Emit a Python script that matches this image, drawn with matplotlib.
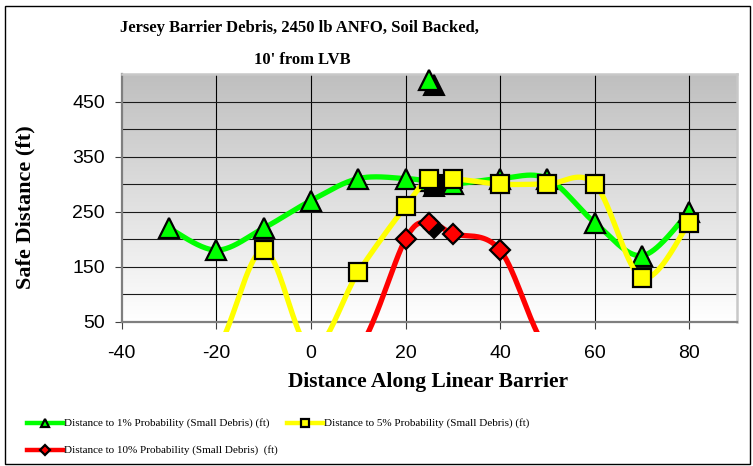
import numpy as np
import matplotlib
matplotlib.use('Agg')
import matplotlib.pyplot as plt
from matplotlib.lines import Line2D
from matplotlib.patches import Rectangle
from matplotlib import transforms
from matplotlib.colors import LinearSegmentedColormap

# ---------------- data ----------------
x_vals = [-30, -20, -10, 0, 10, 20, 25, 30, 40, 50, 60, 70, 80]
p1_vals = [220, 180, 220, 270, 310, 310, 305, 300, 310, 310, 230, 170, 250]
p5_vals = [0, 0, 180, 0, 140, 260, 310, 310, 300, 300, 300, 130, 230]
p10_vals = [0, 0, 0, 0, 0, 200, 230, 210, 180, 0, 0, 0, 0]
outlier_x = [25]
outlier_y = [490]
shadow_x = 25

series_labels = ["Distance to 1% Probability (Small Debris) (ft)",
                 "Distance to 5% Probability (Small Debris) (ft)",
                 "Distance to 10% Probability (Small Debris)  (ft)"]
x_ticks = [-40, -20, 0, 20, 40, 60, 80]
y_ticks = [50, 150, 250, 350, 450]
y_minor = [100, 200, 300, 400]

title1 = "Jersey Barrier Debris, 2450 lb ANFO, Soil Backed,"
title2 = "10' from LVB"
xlabel = "Distance Along Linear Barrier"
ylabel = "Safe Distance (ft)"

SERIF = 'Liberation Serif'
SANS = 'Liberation Sans'


def smooth(xs, ys, n=40):
    P = np.column_stack([xs, ys]).astype(float)
    Pe = np.vstack([P[0], P, P[-1]])
    t = np.linspace(0, 1, n)[:, None]
    out = []
    for i in range(len(P) - 1):
        p0, p1, p2, p3 = Pe[i], Pe[i + 1], Pe[i + 2], Pe[i + 3]
        c1 = p1 + (p2 - p0) / 6
        c2 = p2 - (p3 - p1) / 6
        seg = (1 - t) ** 3 * p1 + 3 * (1 - t) ** 2 * t * c1 + 3 * (1 - t) * t ** 2 * c2 + t ** 3 * p2
        out.append(seg if i == 0 else seg[1:])
    s = np.vstack(out)
    return s[:, 0], s[:, 1]


W, H = 753, 466
fig = plt.figure(figsize=(W / 100, H / 100), dpi=100)
fig.patch.set_facecolor('white')

L, R, T, B = 121.7, 736.7, 74, 321.7
ax = fig.add_axes([L / W, 1 - B / H, (R - L) / W, (B - T) / H])

# gradient background
grad = np.linspace(1.0, 0.0, 256)[:, None]
cm = LinearSegmentedColormap.from_list('g', ['#ffffff', '#bfbfbf'])
ax.imshow(grad, cmap=cm, extent=[0, 1, 0, 1], transform=ax.transAxes,
          aspect='auto', zorder=0, vmin=0, vmax=1)
ax.set_xlim(-40, 90)
ax.set_ylim(50, 500)

# grid
for xv in x_ticks[1:]:
    ax.axvline(xv, color='black', lw=0.8, zorder=1)
for yv in y_ticks[1:] + y_minor:
    ax.axhline(yv, color='#1a1a1a', lw=0.8, zorder=1)

ax.set_xticks(x_ticks)
ax.set_yticks(y_ticks)
ax.set_xticklabels([str(v) for v in x_ticks], fontfamily=SANS, fontsize=14)
ax.set_yticklabels([str(v) for v in y_ticks], fontfamily=SANS, fontsize=14)
ax.tick_params(axis='both', direction='out', length=5, width=0.8, color='#404040')
ax.tick_params(axis='x', pad=11.5)
ax.tick_params(axis='y', pad=7)

for s in ['left', 'bottom']:
    ax.spines[s].set_color('#7f7f7f')
    ax.spines[s].set_linewidth(1.6)
for s in ['right', 'top']:
    ax.spines[s].set_color('#c8c8c8')
    ax.spines[s].set_linewidth(1.8)

clip_rect = Rectangle((0, -0.04), 1, 1.04, transform=ax.transAxes, facecolor='none')

shadow_tr = transforms.offset_copy(ax.transData, fig=fig, x=5, y=-5, units='dots')

specs = [
    (p1_vals, '#00ff00', '^', 14),
    (p5_vals, '#ffff00', 's', 12.5),
    (p10_vals, '#ff0000', 'D', 10),
]
z = 3
for vals, col, mk, ms in specs:
    sx, sy = smooth(x_vals, vals)
    ln, = ax.plot(sx, sy, color=col, lw=3.8, zorder=z, solid_capstyle='butt')
    ln.set_clip_path(clip_rect)
    idx = x_vals.index(shadow_x)
    ax.plot([x_vals[idx]], [vals[idx]], linestyle='none', marker=mk, ms=ms,
            mfc='black', mec='black', mew=1.5, transform=shadow_tr, zorder=z + 0.1)
    ax.plot(x_vals, vals, linestyle='none', marker=mk, ms=ms, mfc=col,
            mec='black', mew=1.6, zorder=z + 0.2)
    z += 1

# outlier green point with shadow
ax.plot(outlier_x, outlier_y, linestyle='none', marker='^', ms=14, mfc='black',
        mec='black', mew=1.5, transform=shadow_tr, zorder=10, clip_on=False)
ax.plot(outlier_x, outlier_y, linestyle='none', marker='^', ms=14, mfc='#00ff00',
        mec='black', mew=1.6, zorder=10.1, clip_on=False)

# titles and labels
fig.text(299 / W, 1 - 28 / H, title1, ha='center', va='center', fontsize=12,
         fontweight='bold', fontfamily=SERIF)
fig.text(302 / W, 1 - 60 / H, title2, ha='center', va='center', fontsize=12,
         fontweight='bold', fontfamily=SERIF)
fig.text(428 / W, 1 - 382 / H, xlabel, ha='center', va='center', fontsize=15.5,
         fontweight='bold', fontfamily=SERIF)
fig.text(25 / W, 1 - 207 / H, ylabel, ha='center', va='center', fontsize=16,
         fontweight='bold', fontfamily=SERIF, rotation=90)

# legend (manual)
leg_items = [
    (27, 423, '#00ff00', '^', series_labels[0]),
    (287, 423, '#ffff00', 's', series_labels[1]),
    (27, 450, '#ff0000', 'D', series_labels[2]),
]
for lx, ly, col, mk, lab in leg_items:
    yy = 1 - ly / H
    fig.add_artist(Line2D([lx / W, (lx + 36) / W], [yy, yy], color=col, lw=3.2,
                          transform=fig.transFigure))
    fig.add_artist(Line2D([(lx + 18) / W], [yy], marker=mk, ms=6 if mk != 'D' else 5,
                          mfc=col, mec='black', mew=1.6, linestyle='none',
                          transform=fig.transFigure))
    fig.text((lx + 37) / W, yy, lab, ha='left', va='center', fontsize=8,
             fontfamily=SERIF)

# outer border
fig.add_artist(Rectangle((5 / W, 1 - 464 / H), 745 / W, 458 / H, transform=fig.transFigure,
                         fill=False, edgecolor='black', lw=1.0))

fig.savefig('out.png', dpi=100)
